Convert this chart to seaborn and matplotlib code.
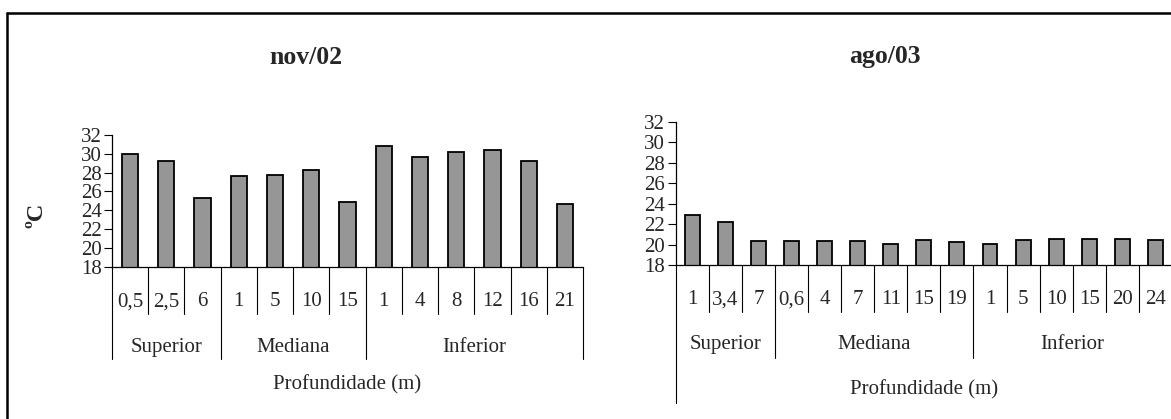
import matplotlib
matplotlib.use("Agg")
import matplotlib.pyplot as plt
import seaborn as sns
import pandas as pd
from matplotlib.lines import Line2D
from matplotlib.transforms import blended_transform_factory

# ---- data ----
groups = ["Superior", "Mediana", "Inferior"]

nov_depths = ["0,5", "2,5", "6", "1", "5", "10", "15", "1", "4", "8", "12", "16", "21"]
nov_groups = [3, 4, 6]
nov_temp = [30.0, 29.2, 25.3, 27.6, 27.8, 28.3, 24.9, 30.8, 29.7, 30.2, 30.4, 29.2, 24.7]

ago_depths = ["1", "3,4", "7", "0,6", "4", "7", "11", "15", "19", "1", "5", "10", "15", "20", "24"]
ago_groups = [3, 6, 6]
ago_temp = [22.9, 22.2, 20.3, 20.3, 20.3, 20.3, 20.1, 20.4, 20.2, 20.1, 20.4, 20.5, 20.5, 20.5, 20.4]

yticks = [18, 20, 22, 24, 26, 28, 30, 32]
titles = ["nov/02", "ago/03"]
xlabel = "Profundidade (m)"
ylabel = "ºC"

sns.set_theme(style="white")
plt.rcParams["font.family"] = ["Liberation Serif", "DejaVu Serif"]

FS = 15
W, H = 1171, 419
fig = plt.figure(figsize=(W / 100, H / 100), dpi=100)


def px_axes(x0, x1, ytop, ybot):
    return fig.add_axes([x0 / W, 1 - ybot / H, (x1 - x0) / W, (ybot - ytop) / H])


def draw(ax, depths, gsizes, temps, d_inner, d_group, d_left, y_tick, y_group, y_xl):
    keys = [f"{i}" for i in range(len(depths))]
    df = pd.DataFrame({"k": keys, "t": temps})
    sns.barplot(data=df, x="k", y="t", order=keys, color="#969696", saturation=1,
                width=0.45, edgecolor="black", linewidth=1.3, ax=ax, errorbar=None)
    n = len(depths)
    ax.set_xlim(-0.5, n - 0.5)
    ax.set_ylim(18, 32)
    ax.set_yticks(yticks)
    ax.set_yticklabels([str(v) for v in yticks], fontsize=FS)
    ax.tick_params(axis="y", left=True, length=5.5, width=0.8, pad=2, color="black")
    ax.tick_params(axis="x", bottom=False, labelbottom=False)
    ax.set_xlabel("")
    ax.set_ylabel("")
    for s in ["top", "right"]:
        ax.spines[s].set_visible(False)
    for s in ["left", "bottom"]:
        ax.spines[s].set_color("black")
        ax.spines[s].set_linewidth(0.9)
    tr = blended_transform_factory(ax.transData, ax.transAxes)
    bounds = [0]
    for g in gsizes:
        bounds.append(bounds[-1] + g)
    for i in range(1, n):
        if i in bounds:
            continue
        ax.add_line(Line2D([i - 0.5, i - 0.5], [0, -d_inner], transform=tr, color="black",
                           lw=0.8, clip_on=False))
    for b in bounds:
        d = d_left if b == 0 else d_group
        ax.add_line(Line2D([b - 0.5, b - 0.5], [0, -d], transform=tr, color="black",
                           lw=0.8, clip_on=False))
    for i, lab in enumerate(depths):
        ax.text(i, -y_tick, lab, transform=tr, ha="center", va="center", fontsize=FS)
    for gi, g in enumerate(groups):
        c = (bounds[gi] + bounds[gi + 1] - 1) / 2
        ax.text(c, -y_group, g, transform=tr, ha="center", va="center", fontsize=FS)
    ax.text(0.5, -y_xl, xlabel, transform=ax.transAxes, ha="center", va="center", fontsize=FS)


ax1 = px_axes(112, 583, 135, 266.7)
draw(ax1, nov_depths, nov_groups, nov_temp, 0.359, 0.70, 0.70, 0.268, 0.61, 0.896)
ax2 = px_axes(675.7, 1172, 121.7, 265)
draw(ax2, ago_depths, ago_groups, ago_temp, 0.328, 0.649, 0.963, 0.244, 0.558, 0.872)

fig.text(306 / W, 1 - 57 / H, titles[0], ha="center", va="center", fontsize=18.5, fontweight="bold")
fig.text(885 / W, 1 - 57 / H, titles[1], ha="center", va="center", fontsize=18.5, fontweight="bold")
fig.text(37 / W, 1 - 215 / H, ylabel, ha="center", va="center", rotation=90, fontsize=17.5,
         fontweight="bold")

# outer frame (top and left edges visible)
fig.add_artist(Line2D([7 / W, 1.01], [1 - 13 / H, 1 - 13 / H], transform=fig.transFigure,
                      color="black", lw=1.8))
fig.add_artist(Line2D([7 / W, 7 / W], [1 - 13 / H, -0.01], transform=fig.transFigure,
                      color="black", lw=1.8))

fig.savefig("out.png", dpi=100)
